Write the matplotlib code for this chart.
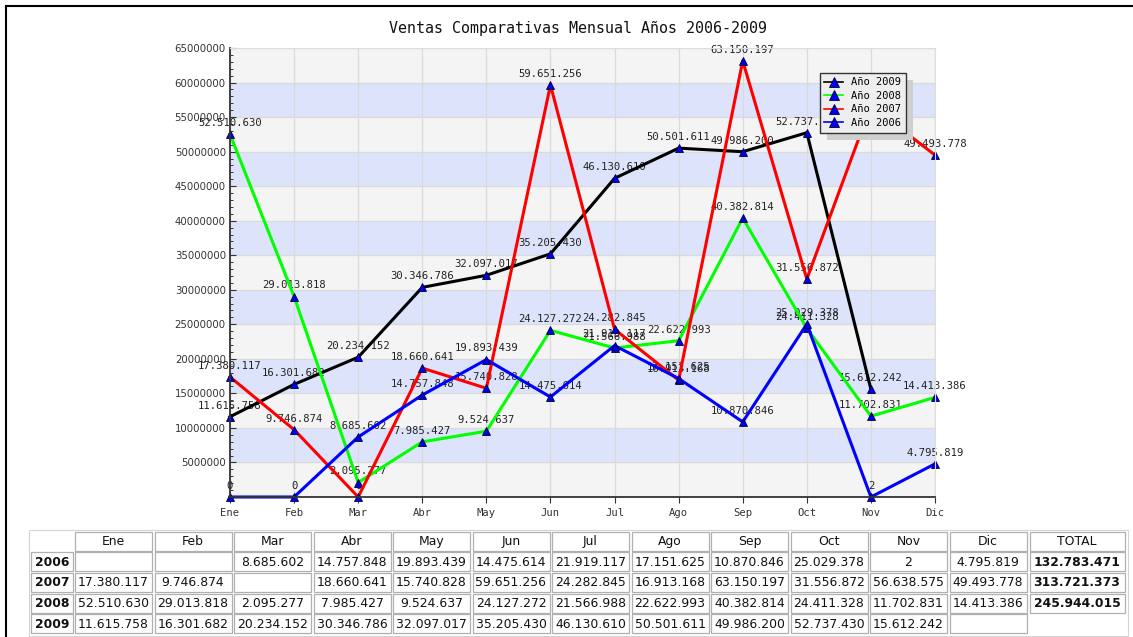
import numpy as np
import matplotlib.pyplot as plt
from matplotlib.lines import Line2D
from matplotlib.patches import Rectangle
from matplotlib.ticker import MultipleLocator
from matplotlib.transforms import IdentityTransform

# ========= datos =========
meses = ["Ene", "Feb", "Mar", "Abr", "May", "Jun", "Jul", "Ago", "Sep", "Oct", "Nov", "Dic"]
anios = ["2009", "2008", "2007", "2006"]  # orden de la leyenda

ventas_2006 = [None, None, 8685602, 14757848, 19893439, 14475614, 21919117,
               17151625, 10870846, 25029378, 2, 4795819]
ventas_2007 = [17380117, 9746874, None, 18660641, 15740828, 59651256, 24282845,
               16913168, 63150197, 31556872, 56638575, 49493778]
ventas_2008 = [52510630, 29013818, 2095277, 7985427, 9524637, 24127272, 21566988,
               22622993, 40382814, 24411328, 11702831, 14413386]
ventas_2009 = [11615758, 16301682, 20234152, 30346786, 32097017, 35205430, 46130610,
               50501611, 49986200, 52737430, 15612242, None]
totales = [132783471, 313721373, 245944015, None]  # 2006..2009

ventas = {"2006": ventas_2006, "2007": ventas_2007, "2008": ventas_2008, "2009": ventas_2009}
colores = {"2009": "#000000", "2008": "#00ff00", "2007": "#ff0000", "2006": "#0000ff"}

W, H = 1133, 637


def fmt(v):
    return f"{v:,}".replace(",", ".")


fig = plt.figure(figsize=(W / 100, H / 100), dpi=100)

# ========= grafico =========
ax = fig.add_axes([230 / W, 1 - 497 / H, 705 / W, 449 / H])
ax.set_xlim(0, len(meses) - 1)
ax.set_ylim(0, 65e6)

for k in range(13):
    ax.axhspan(k * 5e6, (k + 1) * 5e6, color="#f4f4f4" if k % 2 == 0 else "#dce3fb",
               lw=0, zorder=0)
ax.set_axisbelow(True)
ax.grid(True, color="#dadada", lw=0.9)

ax.set_yticks(np.arange(5e6, 65e6 + 1, 5e6))
ax.set_yticklabels([str(int(v)) for v in np.arange(5e6, 65e6 + 1, 5e6)],
                   fontsize=7.3, color="#333333", family="DejaVu Sans")
ax.yaxis.set_minor_locator(MultipleLocator(1e6))
ax.set_xticks(range(len(meses)))
ax.set_xticklabels(meses, fontsize=7.6, color="#333333", family="DejaVu Sans Mono")
ax.tick_params(axis="y", which="major", direction="in", length=4, width=0.8,
               color="#333333", pad=3)
ax.tick_params(axis="y", which="minor", direction="in", length=2.5, width=0.7,
               color="#333333")
ax.tick_params(axis="x", direction="out", length=4, width=0.8, color="#333333", pad=4)
for s in ["left", "bottom"]:
    ax.spines[s].set_color("#333333")
    ax.spines[s].set_linewidth(1.3)
for s in ["top", "right"]:
    ax.spines[s].set_color("#dddddd")
    ax.spines[s].set_linewidth(0.8)

for anio in anios:
    vals = ventas[anio]
    ultimo = max(i for i, v in enumerate(vals) if v is not None)
    ys = [0 if v is None else v for v in vals[:ultimo + 1]]
    xs = list(range(ultimo + 1))
    ax.plot(xs, ys, color=colores[anio], lw=2.2, zorder=2, clip_on=False,
            marker="^", markersize=5.5, mfc="#0000ee", mec="#000033", mew=0.6)
    for x, y in zip(xs, ys):
        ax.annotate(fmt(y), (x, y), xytext=(0, 8), textcoords="offset points",
                    ha="center", va="center", fontsize=7.6, color="#222222",
                    family="DejaVu Sans Mono", zorder=1.5, annotation_clip=False)

handles = [Line2D([], [], color=colores[a], lw=1.2, marker="^", markersize=7,
                  mfc="#0000ee", mec="#000033", mew=0.6) for a in anios]
leg = ax.legend(handles, [f"Año {a}" for a in anios], loc="upper left",
                bbox_to_anchor=(0.829, 0.957), fancybox=False, framealpha=1,
                facecolor="#eeeeee", edgecolor="#333333", handlelength=1.8,
                handletextpad=0.8, borderpad=0.45, labelspacing=0.35,
                prop={"family": "DejaVu Sans Mono", "size": 7.5})
leg.set_zorder(5)

fig.text(578 / W, 1 - 28 / H, "Ventas Comparativas Mensual Años 2006-2009",
         ha="center", va="center", fontsize=10.8, family="DejaVu Sans Mono",
         color="#111111")

# sombra de la leyenda
fig.canvas.draw()
bb = leg.get_window_extent()
ax.add_patch(Rectangle((bb.x0 + 7, bb.y0 - 7), bb.width, bb.height,
                       transform=IdentityTransform(), fc="#cfcfcf", ec="none",
                       zorder=4.9, clip_on=False))

# ========= tabla =========
tab = fig.add_axes([0, 0, 1, 1], facecolor="none")
tab.set_xlim(0, W)
tab.set_ylim(H, 0)
tab.axis("off")

# marco exterior de la imagen
tab.add_line(Line2D([6, 6], [6, H], color="black", lw=1.5))
tab.add_line(Line2D([6, W], [6, 6], color="black", lw=1.5))

x_fila, w_fila = 31, 42
x_mes0, paso_x, w_mes = 75, 79.5, 77
x_total, w_total = 1029.5, 95
y0, paso_y, h_celda = 531.5, 20.7, 19

tab.add_patch(Rectangle((29, 529.5), 1099, 106.5, fill=False, ec="#d4d4d4", lw=0.8))


def celda(x, y, w, texto, bold=False, borde=True):
    if borde:
        tab.add_patch(Rectangle((x, y), w, h_celda, fc="white", ec="#b0b0b0", lw=0.9))
    tab.text(x + w / 2, y + h_celda / 2 + 0.5, texto, ha="center", va="center",
             fontsize=8.9, family="DejaVu Sans", color="#111111",
             fontweight="bold" if bold else "normal")


for j, m in enumerate(meses):
    celda(x_mes0 + j * paso_x, y0, w_mes, m)
celda(x_total, y0, w_total, "TOTAL")

for i, anio in enumerate(["2006", "2007", "2008", "2009"]):
    y = y0 + (i + 1) * paso_y
    celda(x_fila, y, w_fila, anio, bold=True)
    for j, v in enumerate(ventas[anio]):
        celda(x_mes0 + j * paso_x, y, w_mes, "" if v is None else fmt(v))
    t = totales[i]
    if t is not None:
        celda(x_total, y, w_total, fmt(t), bold=True)

fig.savefig("out.png", dpi=100)
